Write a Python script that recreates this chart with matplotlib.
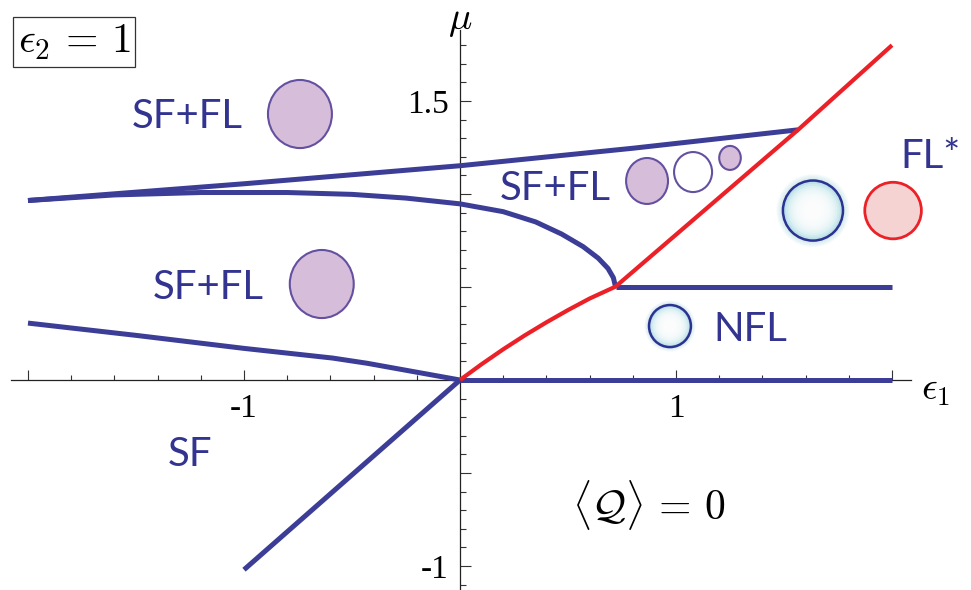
import numpy as np
import matplotlib
matplotlib.use('Agg')
import matplotlib.pyplot as plt
from matplotlib.patches import Ellipse
from matplotlib.ticker import FixedLocator, FixedFormatter

# phase boundaries
upper_x = [-2.0, -1.0, 0.0, 0.8, 1.565]
upper_y = [0.965, 1.055, 1.152, 1.246, 1.345]

middle_x = [-2.0, -1.6, -1.2, -0.8, -0.5, -0.25, 0.0, 0.2, 0.35, 0.47, 0.57, 0.64, 0.685, 0.71, 0.72]
middle_y = [0.965, 0.995, 1.008, 1.008, 0.998, 0.978, 0.947, 0.905, 0.85, 0.785, 0.717, 0.655, 0.60, 0.55, 0.502]

red_x = [0.0, 0.1, 0.2, 0.3, 0.4, 0.5, 0.6, 0.72, 1.565, 2.0]
red_y = [0.0, 0.085, 0.165, 0.24, 0.31, 0.376, 0.438, 0.502, 1.345, 1.80]

nfl_x = [0.72, 2.0]
nfl_y = [0.502, 0.502]

zero_x = [0.0, 2.0]
zero_y = [0.0, 0.0]

lower_x = [-2.0, -1.5, -1.0, -0.59, -0.43, 0.0]
lower_y = [0.306, 0.24, 0.17, 0.118, 0.09, 0.0]

diag_x = [-1.0, 0.0]
diag_y = [-1.02, 0.0]

# little disks (centre x, centre y, width, height)
purple_disks = [(-0.741, 1.430, 0.296, 0.366),
                (-0.640, 0.516, 0.296, 0.366),
                (0.866, 1.070, 0.194, 0.247),
                (1.250, 1.194, 0.100, 0.129)]
hollow_disk = (1.079, 1.118, 0.176, 0.215)
glow_disks = [(1.634, 0.911, 0.278, 0.323),
              (0.972, 0.290, 0.194, 0.226)]
red_disk = (2.005, 0.911, 0.262, 0.304)

# region labels
labels = ['SF+FL', 'SF+FL', 'SF+FL', 'FL*', 'NFL', 'SF']
label_x = [-1.264, -1.167, 0.44, 2.176, 1.343, -1.25]
label_y = [1.419, 0.50, 1.032, 1.204, 0.274, -0.403]

blue = '#3b3d96'
txtblue = '#32348f'
red = '#ec2027'
purple_fc = '#d6bdd9'
purple_ec = '#6450a0'
cyan = '#9fd6df'

plt.rcParams['mathtext.fontset'] = 'cm'
plt.rcParams['font.family'] = 'Liberation Serif'

fig = plt.figure(figsize=(9.71, 5.90), dpi=100)
ax = fig.add_axes([0, 0, 1, 1])
ax.set_xlim(-2.1296, 2.3657)
ax.set_ylim(-1.129, 2.043)
ax.patch.set_alpha(0)

for s in ['top', 'right']:
    ax.spines[s].set_visible(False)
ax.spines['left'].set_position('zero')
ax.spines['bottom'].set_position('zero')
ax.spines['bottom'].set_bounds(-2.08, 2.09)
ax.spines['left'].set_bounds(-1.2, 1.88)
for s in ['left', 'bottom']:
    ax.spines[s].set_linewidth(0.9)
    ax.spines[s].set_color('#222222')

ax.xaxis.set_major_locator(FixedLocator([-2, -1, 1, 2]))
ax.xaxis.set_major_formatter(FixedFormatter(['', '-1', '1', '']))
ax.xaxis.set_minor_locator(FixedLocator(np.arange(-1.8, 2.0, 0.2)))
ax.yaxis.set_major_locator(FixedLocator([-1, -0.5, 0.5, 1, 1.5]))
ax.yaxis.set_major_formatter(FixedFormatter(['-1', '', '', '', '1.5']))
ax.yaxis.set_minor_locator(FixedLocator(np.arange(-1.1, 1.85, 0.1)))
ax.tick_params(which='both', direction='in', color='#333333', width=0.8, labelsize=24)
ax.tick_params(axis='x', which='major', length=7.5, pad=10)
ax.tick_params(axis='x', which='minor', length=3.8)
ax.tick_params(axis='y', which='major', length=8, pad=8)
ax.tick_params(axis='y', which='minor', length=4.5)

# boundaries
lw = 3.6
ax.plot(upper_x, upper_y, color=blue, lw=lw, solid_capstyle='butt', zorder=3)
ax.plot(middle_x, middle_y, color=blue, lw=lw, solid_capstyle='butt', zorder=3)
ax.plot(lower_x, lower_y, color=blue, lw=lw, solid_capstyle='butt', zorder=3)
ax.plot(diag_x, diag_y, color=blue, lw=lw, solid_capstyle='butt', zorder=3)
ax.plot(zero_x, zero_y, color=blue, lw=lw, solid_capstyle='butt', zorder=3)
ax.plot(nfl_x, nfl_y, color=blue, lw=lw, solid_capstyle='butt', zorder=3)
ax.plot(red_x, red_y, color=red, lw=3.0, solid_capstyle='butt', zorder=3.5)

# disks
for (x, y, w, h) in purple_disks:
    ax.add_patch(Ellipse((x, y), w, h, fc=purple_fc, ec=purple_ec, lw=1.5, zorder=5))
x, y, w, h = hollow_disk
ax.add_patch(Ellipse((x, y), w, h, fc='white', ec=purple_ec, lw=1.5, zorder=5))
x, y, w, h = red_disk
ax.add_patch(Ellipse((x, y), w, h, fc='#f6d3d3', ec=red, lw=2.0, zorder=5))
for (x, y, w, h) in glow_disks:
    # soft halo outside, white centre fading to cyan at the rim
    for s in np.linspace(1.22, 1.0, 12):
        ax.add_patch(Ellipse((x, y), w * s, h * s, fc=cyan, ec='none', alpha=0.05, zorder=4))
    ax.add_patch(Ellipse((x, y), w, h, fc=cyan, ec='none', zorder=4.5))
    for s in np.linspace(0.97, 0.0, 14):
        ax.add_patch(Ellipse((x, y), w * s, h * s, fc='white', ec='none', alpha=0.3, zorder=4.6))
    ax.add_patch(Ellipse((x, y), w, h, fc='none', ec='#2e3192', lw=1.8, zorder=5))

for t, x, y in zip(labels, label_x, label_y):
    ax.text(x, y, t, color=txtblue, fontsize=29, family='Lato',
            ha='center', va='center', zorder=6)

ax.text(-1.787, 1.817, r'$\epsilon_2\,=\,1$', fontsize=30, ha='center', va='center',
        bbox=dict(boxstyle='square,pad=0.12', fc='white', ec='#333333', lw=0.9))
ax.text(0.875, -0.672, r'$\langle\mathcal{Q}\rangle\,=\,0$', fontsize=30, ha='center', va='center')
ax.text(0.0, 1.935, r'$\mu$', fontsize=28, ha='center', va='center')
ax.text(2.204, -0.054, r'$\epsilon_1$', fontsize=28, ha='center', va='center')

fig.savefig('out.png', dpi=100)
